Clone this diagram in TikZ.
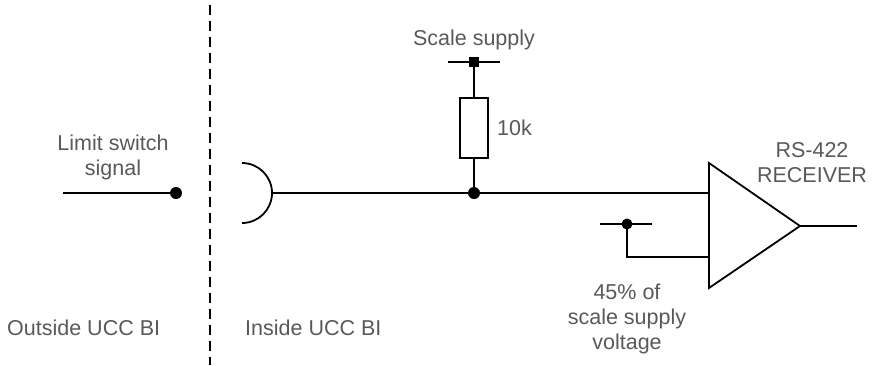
\documentclass[tikz,border=0pt]{standalone}
\usepackage{fontspec}
\setmainfont{Liberation Sans}
\begin{document}
\begin{tikzpicture}[x=1pt,y=-1pt,
  wire/.style={line width=1.8pt},
  lbl/.style={text=black!65,font=\fontsize{21.5}{25}\selectfont,inner sep=0pt,align=center},
  dotc/.style={circle,fill=black,inner sep=0pt,minimum size=12pt},
  sq/.style={rectangle,fill=black,inner sep=0pt,minimum size=10pt}]
\useasboundingbox (0,0) rectangle (896,365);
% dashed boundary
\coordinate (dtop) at (210,5);
\coordinate (dbot) at (210,365);
\draw[line width=2pt,dash pattern=on 10pt off 6pt] (dtop) -- (dbot);
% left signal
\coordinate (lstart) at (63,193);
\node[dotc] (ldot) at (176,193) {};
\draw[wire] (lstart) -- (ldot.center);
\node[lbl] (lsw) at (113,157) {Limit switch\\signal};
% connector arc
\coordinate (arcs) at (242,163);
\draw[wire] (arcs) arc[start angle=-90,end angle=90,radius=30];
\coordinate (arcm) at (272,193);
% junction
\node[dotc] (jdot) at (474,193) {};
% triangle receiver
\coordinate (tl) at (709,163);
\coordinate (bl) at (709,288);
\coordinate (ap) at (800,226);
\draw[wire,line join=miter] (tl) -- (ap) -- (bl) -- cycle;
\coordinate (in1) at (709,193);
\coordinate (in2) at (709,257);
\coordinate (outE) at (857,226);
\draw[wire] (arcm) -- (in1);
\draw[wire] (ap) -- (outE);
% resistor
\node[draw,line width=1.8pt,minimum width=28pt,minimum height=60pt,inner sep=0pt] (res) at (474,128) {};
\node[sq] (sup) at (474,62) {};
\coordinate (barL) at (448,62);
\coordinate (barR) at (500,62);
\draw[wire] (barL) -- (barR);
\draw[wire] (sup.center) -- (res.north);
\draw[wire] (res.south) -- (jdot.center);
\node[lbl] (ss) at (474,40) {Scale supply};
\node[lbl,anchor=west] (tenk) at (497,128) {10k};
% reference input
\node[dotc,minimum size=11pt] (rdot) at (627,224) {};
\coordinate (rbarL) at (600,224);
\coordinate (rbarR) at (652,224);
\draw[wire] (rbarL) -- (rbarR);
\draw[wire] (rdot.center) |- (in2);
\node[lbl] (pct) at (627,319) {45\% of\\scale supply\\voltage};
\node[lbl] (rx) at (812,163) {RS-422\\RECEIVER};
% region labels
\node[lbl,anchor=west] (outs) at (7,328) {Outside UCC BI};
\node[lbl,anchor=west] (ins) at (245,328) {Inside UCC BI};
\end{tikzpicture}
\end{document}
